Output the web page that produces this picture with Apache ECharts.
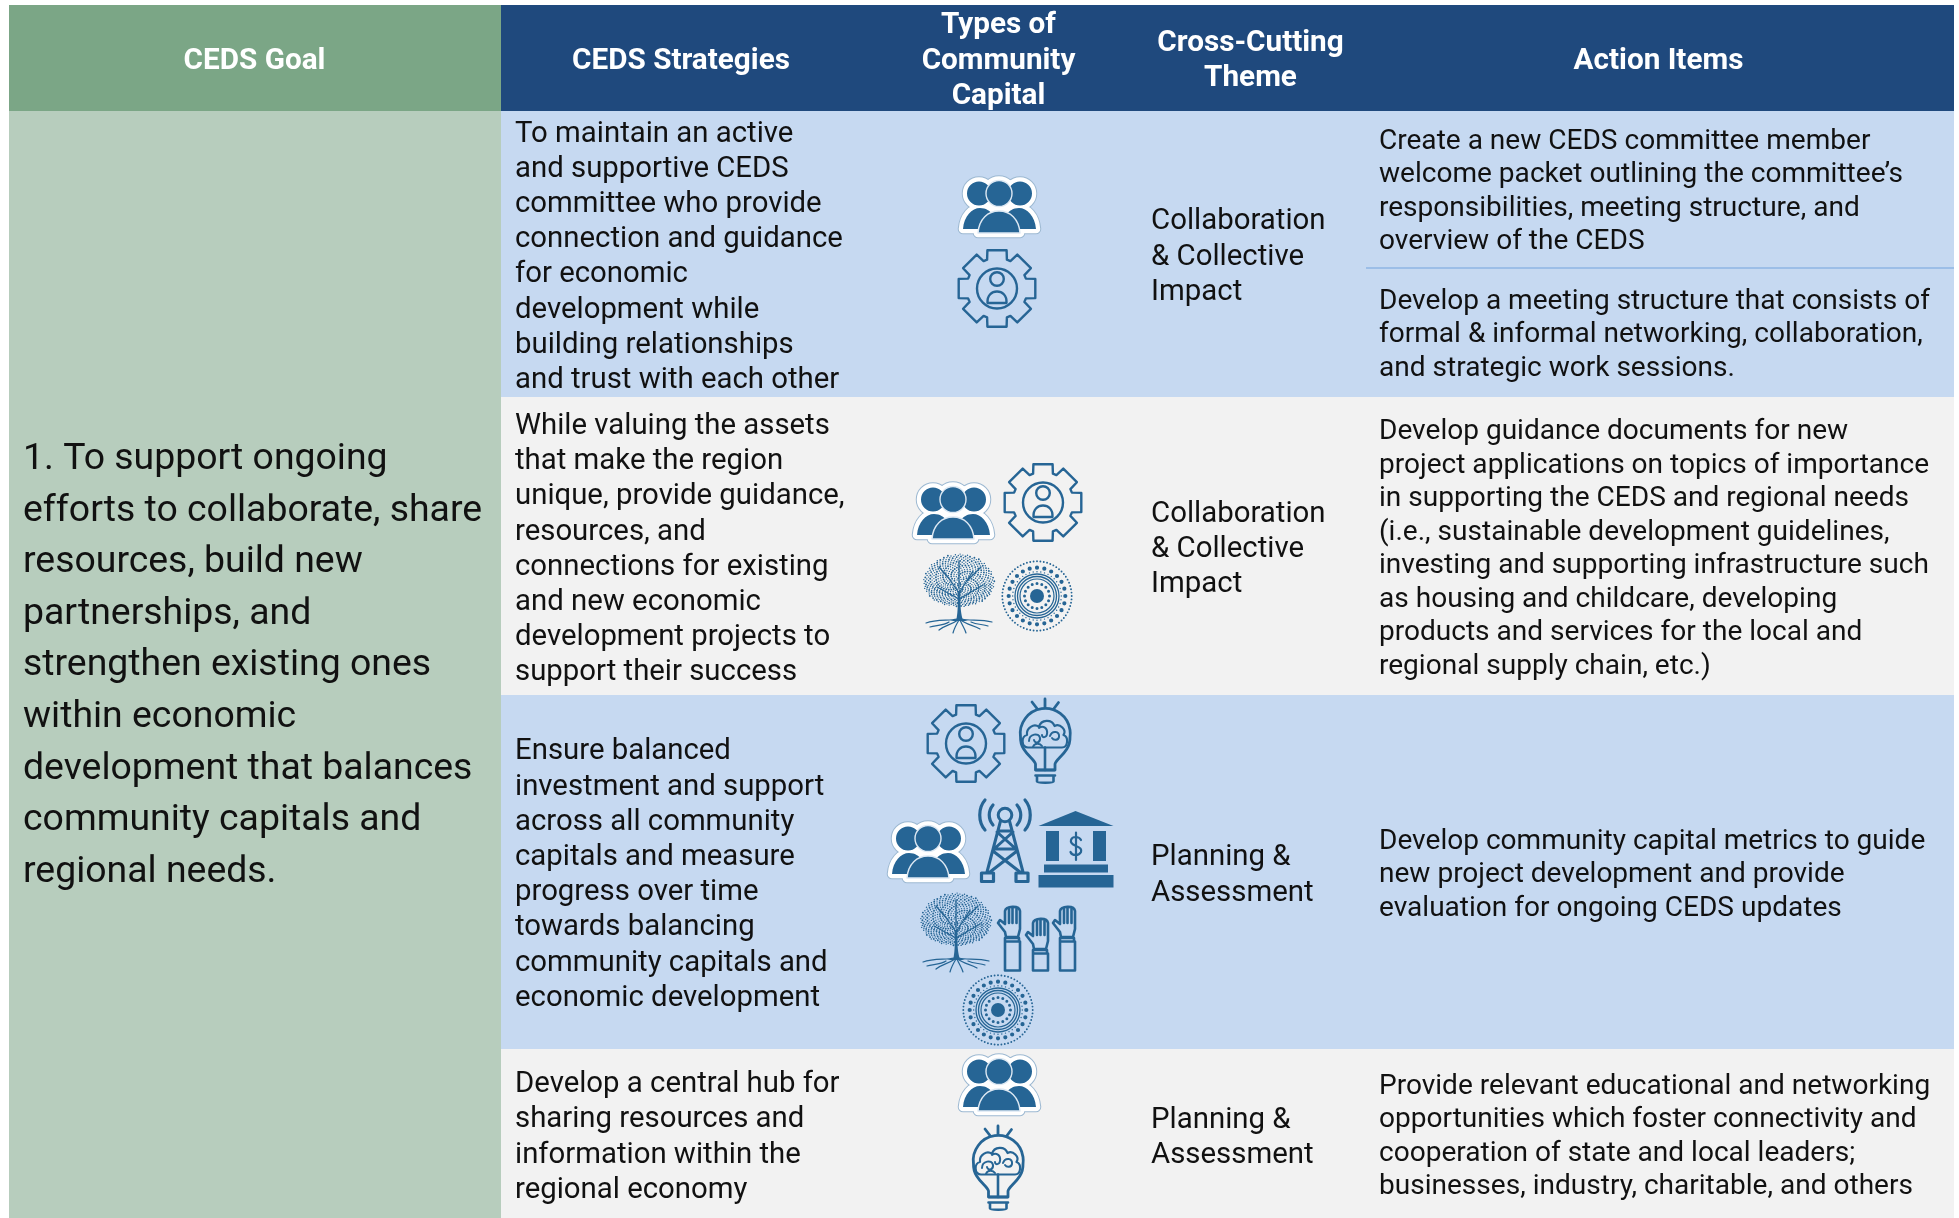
<!DOCTYPE html>
<html><head><meta charset="utf-8">
<style>html,body{margin:0;padding:0;background:#fff}#c{width:1959px;height:1218px}</style>
<script src="https://cdn.jsdelivr.net/npm/echarts@6/dist/echarts.min.js"></script>
</head><body><div id="c"></div>
<script>
// ---------- content ----------
const headerLabels = [["CEDS Goal"],["CEDS Strategies"],["Types of","Community","Capital"],["Cross-Cutting","Theme"],["Action Items"]];
const goalLines = ["1. To support ongoing","efforts to collaborate, share","resources, build new","partnerships, and","strengthen existing ones","within economic","development that balances","community capitals and","regional needs."];
const strategyLines = [
 ["To maintain an active","and supportive CEDS","committee who provide","connection and guidance","for economic","development while","building relationships","and trust with each other"],
 ["While valuing the assets","that make the region","unique, provide guidance,","resources, and","connections for existing","and new economic","development projects to","support their success"],
 ["Ensure balanced","investment and support","across all community","capitals and measure","progress over time","towards balancing","community capitals and","economic development"],
 ["Develop a central hub for","sharing resources and","information within the","regional economy"]];
const themeLines = [["Collaboration","& Collective","Impact"],["Collaboration","& Collective","Impact"],["Planning &","Assessment"],["Planning &","Assessment"]];
const actionLines = [
 ["Create a new CEDS committee member","welcome packet outlining the committee’s","responsibilities, meeting structure, and","overview of the CEDS"],
 ["Develop a meeting structure that consists of","formal & informal networking, collaboration,","and strategic work sessions."],
 ["Develop guidance documents for new","project applications on topics of importance","in supporting the CEDS and regional needs","(i.e., sustainable development guidelines,","investing and supporting infrastructure such","as housing and childcare, developing","products and services for the local and","regional supply chain, etc.)"],
 ["Develop community capital metrics to guide","new project development and provide","evaluation for ongoing CEDS updates"],
 ["Provide relevant educational and networking","opportunities which foster connectivity and","cooperation of state and local leaders;","businesses, industry, charitable, and others"]];
const capitalIcons = [["people","gear"],["people","gear","tree","mandala"],["gear","bulb","people","tower","bank","tree","hands","mandala"],["people","bulb"]];

// ---------- layout (separate from the content) ----------
const W = 1959, H = 1218;
const colX = {left:9, s:501, right:1954};
const rowY = [5,111,397,695,1049,1218];
const C = {greenHead:'#7BA686',greenCell:'#B7CDBD',blueHead:'#1F497D',blue:'#C6D9F1',grey:'#F2F2F2',icon:'#266595',rule:'#8EB4E3',ink:'#111111'};
const FONT = 'Roboto';
const cellRects = [
 [colX.left,colX.s,rowY[0],rowY[1],C.greenHead],[colX.s,colX.right,rowY[0],rowY[1],C.blueHead],
 [colX.left,colX.s,rowY[1],rowY[5],C.greenCell],
 [colX.s,colX.right,rowY[1],rowY[2],C.blue],[colX.s,colX.right,rowY[2],rowY[3],C.grey],
 [colX.s,colX.right,rowY[3],rowY[4],C.blue],[colX.s,colX.right,rowY[4],rowY[5],C.grey]];
const ruleSeg = [1366,1954,268];

const textRuns = [];
function block(lines,x,y0,step,size,opts){lines.forEach((t,i)=>textRuns.push(Object.assign({t,x,y:y0+i*step,size,w:'normal',a:'left',c:C.ink},opts||{})));}
const hd={w:'bold',c:'#fff',a:'center'};
block(headerLabels[0],254.5,61.5,0,29.7,hd);
block(headerLabels[1],681,61.5,0,29.7,hd);
block(headerLabels[2],998.5,25.5,35.6,29.7,hd);
block(headerLabels[3],1250.5,43.5,35.3,29.7,hd);
block(headerLabels[4],1658.5,61.5,0,29.7,hd);
block(goalLines,23,459.7,51.6,37.4);
[134.2,426.6,752,1084.8].forEach((y,i)=>block(strategyLines[i],515,y,35.2,29.35));
[222,514.5,858,1120.5].forEach((y,i)=>block(themeLines[i],1151,y,35.3,29.4));
[141.7,301.8,432,841.7,1086.5].forEach((y,i)=>block(actionLines[i],1379,y,33.5,28.05));

const iconPos = [
 [[958,178],[957,248]],
 [[912,484],[1003,462],[923,553],[1002,560]],
 [[926,703],[1019,698],[887,823],[978,799],[1038,811],[920,892],[997,905],[963,974]],
 [[958,1056],[972,1125]]];

// ---------- icon drawing (decoration, in local pixels) ----------
const dot=(x,y,r)=>`M${x-r} ${y}A${r} ${r} 0 1 0 ${x+r} ${y}A${r} ${r} 0 1 0 ${x-r} ${y}Z`;
const line=(d,w,col)=>({type:'path',shape:{pathData:d},style:{fill:'none',stroke:col||C.icon,lineWidth:w,lineCap:'round',lineJoin:'round'}});
const fill=(d,col)=>({type:'path',shape:{pathData:d},style:{fill:col||C.icon,stroke:'none'}});
function polar(cx,cy,r,a){return [cx+r*Math.cos(a),cy+r*Math.sin(a)];}
const ICON={
 people(){
  const hl=dot(21,15.5,12),hr=dot(62,15.5,12),hc=dot(41,15.5,13);
  const bl='M5 51C6 38 14 30 22 30C28 30 32 33 34 36L22 51Z';
  const br='M78 51C77 38 69 30 61 30C55 30 51 33 49 36L61 51Z';
  const bc='M20 55C21 41 30 33 41 33C52 33 61 41 62 55Z';
  const all=[hl,hr,hc,bl,br,bc].join('');
  const out=[
   {type:'path',shape:{pathData:all},style:{fill:'#9DB9D2',stroke:'#9DB9D2',lineWidth:10.5,lineJoin:'round'}},
   {type:'path',shape:{pathData:all},style:{fill:'#fff',stroke:'#fff',lineWidth:8.5,lineJoin:'round'}},
   fill(hl+hr+bl+br)];
  out.push({type:'path',shape:{pathData:hc+bc},style:{fill:C.icon,stroke:'#DCE8F3',lineWidth:1.4,lineJoin:'round'}});
  return out;
 },
 gear(){
  let d='';const cx=40,cy=40.5;
  for(let i=0;i<8;i++){
   const a=-Math.PI/2+i*Math.PI/4;
   const p=[polar(cx,cy,30.5,a-0.33),polar(cx,cy,39.5,a-0.245),polar(cx,cy,39.5,a+0.245),polar(cx,cy,30.5,a+0.33)];
   p.forEach((q,j)=>{d+=(i===0&&j===0?'M':'L')+q[0].toFixed(1)+' '+q[1].toFixed(1);});
  }
  d+='Z';
  return [line(d,2.4),line(dot(40,40.5,20),2.4),line(dot(40,31,6.8),2.4),line('M30.5 55C30 47 35 43.5 40 43.5C45 43.5 50 47 49.5 55Z',2.4)];
 },
 bulb(){
  return [
   line('M26 1V9M13 4L18 10.5M39.5 4.5L35 10.5',2.8),
   line('M16.5 72V66C15 60 1 54 1.5 39A25 25 0 1 1 51 39C51.5 54 37.5 60 36 66V72Z',2.8),
   line('M16.5 77.5H36M17 72H35.5M18 79V83.5C18 85 34.500 85 34.500 83.5V79',2.6),
   line('M26 49.5V72',2.6),
   line('M9 49.500C2 49.500 2 38 8 37C7 30 15 25 20 29C22 21 33 21 35.500 28C41 25 48 32 44.500 37C50 39 49 49.500 43 49.500Z',2.2),
   line('M10 43C10 36 20 34 21 40C21.500 45 16 46 15 42M20 30C24 27 29 30 28 36C27.500 40 23 40 23 37M31 38C33 32 41 33 40 39C39.500 42 35 43 33 40M14 49C15 45 21 45 23 48',2)
  ];
 },
 tower(){
  return [
   line(dot(27,16,6.8),3),
   line('M15 6C10 12 10 20 15 26M7 1C0 9 0 23 7 31M39 6C44 12 44 20 39 26M47 1C54 9 54 23 47 31',3.2),
   line('M22.500 22L9 73M31.500 22L45 73M20 32L34 32M19 33L38 50M35 33L16 50M15 50H39M15 52L42 73M39 52L12 73',3),
   line('M3.500 74H15.500V82.500H3.500ZM38 74H50V82.500H38Z',3.2)
  ];
 },
 bank(){
  return [
   fill('M0.500 15L37.500 0L75.500 15Z'),
   fill('M8 20H21V50H8ZM55 20H68V50H55ZM6 53.500H70V61.500H6ZM0.500 64H75.500V76.500H0.500Z'),
   line('M43 29C41 25 34 25 33 29C32 33 36 34 38 35C41 36 44 38 43 41C41 45 34 45 32.500 41M38 21.500V49',2.2)
  ];
 },
 hands(){
  const hand=(ox,oy,armEnd)=>{
   const X=v=>(v+ox).toFixed(1),Y=v=>(v+oy).toFixed(1);
   const o=`M${X(9)} ${Y(32)}L${X(8)} ${Y(27)}L${X(1)} ${Y(18)}L${X(3)} ${Y(15)}L${X(8)} ${Y(19)}L${X(8)} ${Y(6)}C${X(9)} ${Y(1)} ${X(22)} ${Y(0)} ${X(23)} ${Y(6)}L${X(23)} ${Y(24)}L${X(21)} ${Y(32)}Z`;
   const f=`M${X(12)} ${Y(4)}V${Y(18)}M${X(15.5)} ${Y(2.5)}V${Y(18)}M${X(19.5)} ${Y(4)}V${Y(18)}`;
   const c=`M${X(8)} ${Y(33)}H${X(22)}V${Y(36.500)}H${X(8)}ZM${X(8)} ${Y(36.500)}V${armEnd}H${X(23)}V${Y(36.500)}`;
   return [line(o,2.6),line(f,2.6),line(c,2.6)];
  };
  return [].concat(hand(0,0,65.5),hand(28,12,65.5),hand(55,0,65.5));
 },
 tree(){
  const cx=36,cy=30;let dots='';
  for(let i=0;i<560;i++){
   const f=Math.sqrt((i+0.5)/560),a=i*2.39996;
   const x=cx+35.5*f*Math.cos(a),y=cy+29*f*Math.sin(a)*(Math.sin(a)>0?0.82:1);
   dots+=dot(+x.toFixed(1),+y.toFixed(1),i%3===0?0.95:0.72);
  }
  return [
   fill(dots),
   line('M36 52L36 40L22 20M36 40L50 18M36 46L14 34M36 46L60 32M36 36L36 8M28 28L16 14M44 28L58 14',1.3),
   fill('M33.500 66C35 58 35 50 34.500 38H37.500C37 50 37.500 58 39.500 66L45 68H27Z'),
   line('M34 66C26 68 14 66 3 70M35 67C28 72 22 72 16 77M36 67C33 72 31 76 30 80M37 67C39 72 42 76 43 80M38 67C44 72 50 72 57 76M39 66C46 68 58 66 69 69M26 69C20 73 12 72 7 74M48 69C54 72 60 71 65 73',1.2)
  ];
 },
 mandala(){
  const cx=35,cy=36,ringD=(n,r,s)=>{let d='';for(let i=0;i<n;i++){const p=polar(cx,cy,r,i*2*Math.PI/n);d+=dot(+p[0].toFixed(2),+p[1].toFixed(2),s);}return d;};
  return [
   fill(dot(cx,cy,7)),
   fill(ringD(16,12.5,1.5)),
   line(dot(cx,cy,17),1.2),line(dot(cx,cy,19.5),1.3),line(dot(cx,cy,22),1.3),
   fill(ringD(24,28.3,2.1)),
   fill(ringD(64,34.700,0.95)),
   fill(ringD(40,24.3,0.7))
  ];
 }
};

// ---------- chart ----------
const chart = echarts.init(document.getElementById('c'),null,{renderer:'canvas'});
const allIcons=[];
capitalIcons.forEach((row,r)=>row.forEach((name,i)=>allIcons.push({name,pos:iconPos[r][i]})));
chart.setOption({
 animation:false,
 backgroundColor:'#fff',
 grid:{left:0,right:0,top:0,bottom:0},
 xAxis:{type:'value',min:0,max:W,show:false},
 yAxis:{type:'value',min:0,max:H,inverse:true,show:false},
 series:[
  {type:'custom',coordinateSystem:'cartesian2d',silent:true,clip:false,z:1,
   data:cellRects.map((r,i)=>[i]),
   renderItem(p,api){const r=cellRects[api.value(0)],a=api.coord([r[0],r[2]]),b=api.coord([r[1],r[3]]);
     return {type:'rect',shape:{x:a[0],y:a[1],width:b[0]-a[0],height:b[1]-a[1]},style:{fill:r[4]}};}},
  {type:'custom',coordinateSystem:'cartesian2d',silent:true,clip:false,z:2,
   data:[[0]],
   renderItem(p,api){const a=api.coord([ruleSeg[0],ruleSeg[2]]),b=api.coord([ruleSeg[1],ruleSeg[2]]);
     return {type:'line',shape:{x1:a[0],y1:a[1],x2:b[0],y2:b[1]},style:{stroke:C.rule,lineWidth:1.4}};}},
  {type:'custom',coordinateSystem:'cartesian2d',silent:true,clip:false,z:3,
   data:allIcons.map((r,i)=>[i]),
   renderItem(p,api){const ic=allIcons[api.value(0)],a=api.coord(ic.pos);
     return {type:'group',x:a[0],y:a[1],children:ICON[ic.name]()};}},
  {type:'custom',coordinateSystem:'cartesian2d',silent:true,clip:false,z:4,
   data:textRuns.map((r,i)=>[i]),
   renderItem(p,api){const t=textRuns[api.value(0)],a=api.coord([t.x,t.y]);
     return {type:'text',x:a[0],y:a[1],style:{text:t.t,fontFamily:FONT,fontSize:t.size,fontWeight:t.w,fill:t.c,align:t.a,verticalAlign:'middle'}};}}
 ]
});
</script></body></html>
